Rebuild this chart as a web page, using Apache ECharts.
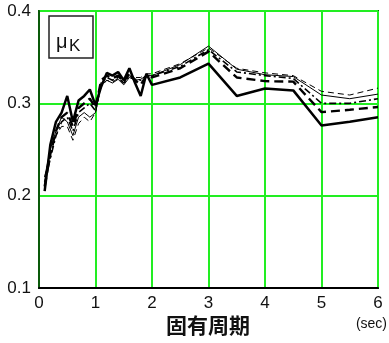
<!DOCTYPE html>
<html><head><meta charset="utf-8">
<script src="https://cdn.jsdelivr.net/npm/echarts@6/dist/echarts.min.js"></script>
<style>html,body{margin:0;padding:0;background:#fff}#c{width:389px;height:343px}</style>
</head><body><div id="c"></div>
<script>
const periods = [0.1,0.2,0.3,0.4,0.5,0.6,0.7,0.8,0.9,1.0,1.1,1.2,1.3,1.4,1.5,1.6,1.7,1.8,1.9,2.0,2.5,3.0,3.5,4.0,4.5,5.0,5.5,6.0];
const thickSolid  = [0.205,0.255,0.280,0.290,0.308,0.280,0.303,0.308,0.315,0.298,0.318,0.333,0.330,0.334,0.325,0.338,0.322,0.308,0.332,0.320,0.328,0.343,0.308,0.316,0.314,0.276,0.280,0.285];
const thickDashed = [0.210,0.245,0.270,0.285,0.290,0.275,0.295,0.300,0.305,0.295,0.325,0.330,0.327,0.330,0.323,0.333,0.325,0.320,0.330,0.328,0.338,0.356,0.328,0.324,0.3235,0.2905,0.293,0.296];
const dashDot     = [0.215,0.240,0.265,0.280,0.285,0.270,0.290,0.295,0.300,0.292,0.322,0.328,0.325,0.328,0.322,0.330,0.326,0.325,0.330,0.330,0.340,0.358,0.334,0.330,0.327,0.300,0.300,0.305];
const thinSolid   = [0.220,0.250,0.270,0.285,0.280,0.265,0.285,0.290,0.285,0.290,0.320,0.325,0.322,0.326,0.320,0.328,0.325,0.326,0.330,0.330,0.342,0.362,0.337,0.331,0.329,0.309,0.305,0.310];
const thinDashed  = [0.220,0.245,0.265,0.275,0.275,0.260,0.278,0.285,0.280,0.290,0.318,0.325,0.323,0.327,0.322,0.330,0.328,0.328,0.332,0.332,0.343,0.360,0.338,0.333,0.330,0.313,0.309,0.3165];
const xTicks = [0,1,2,3,4,5,6];
const yTicks = [0.1,0.2,0.3,0.4];

const pair = arr => periods.map((p,i)=>[p,arr[i]]);
const mk = (arr, w, type) => ({type:'line', data:pair(arr), showSymbol:false, symbol:'none', animation:false,
  lineStyle:{color:'#000', width:w, type:type}});

const chart = echarts.init(document.getElementById('c'), null, {renderer:'canvas'});
chart.setOption({
  animation:false,
  grid:{left:39, right:11, top:11, bottom:55, show:true, borderColor:'#0a5a0a', borderWidth:2, backgroundColor:'#fff'},
  xAxis:{type:'value', min:xTicks[0], max:xTicks[xTicks.length-1], interval:1,
    axisLine:{show:true, onZero:false, lineStyle:{color:'#000', width:2}},
    axisTick:{show:false},
    splitLine:{show:true, lineStyle:{color:'#22ee22', width:2}},
    axisLabel:{color:'#111', fontSize:17, fontFamily:'Liberation Sans, Arial', margin:7, formatter:v=>String(v)}
  },
  yAxis:{type:'value', min:yTicks[0], max:yTicks[yTicks.length-1], interval:0.1,
    axisLine:{show:true, lineStyle:{color:'#0a5a0a', width:2}},
    axisTick:{show:false},
    splitLine:{show:true, lineStyle:{color:'#22ee22', width:2}},
    axisLabel:{color:'#111', fontSize:17, fontFamily:'Liberation Sans, Arial', margin:8, formatter:v=>v.toFixed(1)}
  },
  series:[
    mk(thinDashed, 1, [6,4]),
    mk(thinSolid, 1, 'solid'),
    mk(dashDot, 1.6, [7,3,2,3]),
    mk(thickDashed, 2.4, [9,5]),
    mk(thickSolid, 2.5, 'solid')
  ],
  graphic:[
    {type:'rect', shape:{x:49, y:16, width:44, height:42}, style:{fill:'#fff', stroke:'#222', lineWidth:1.5}, z:100},
    {type:'text', x:56, y:32, style:{text:'μ', font:'20px "Liberation Sans", Arial', fill:'#111'}, z:101},
    {type:'text', x:69, y:38, style:{text:'K', font:'17px "Liberation Sans", Arial', fill:'#111'}, z:101},
    {type:'text', x:208, y:315, style:{text:'固有周期', font:'bold 21px "Noto Sans CJK JP", sans-serif', fill:'#111', textAlign:'center'}},
    {type:'text', x:387, y:317, style:{text:'(sec)', font:'14px "Liberation Sans", Arial', fill:'#111', textAlign:'right'}}
  ]
});
</script></body></html>
